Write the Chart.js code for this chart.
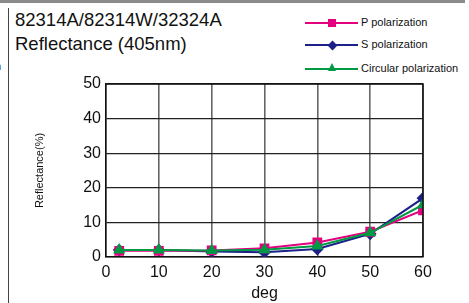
<!DOCTYPE html>
<html>
<head>
<meta charset="utf-8">
<script src="https://cdn.jsdelivr.net/npm/chart.js@4/dist/chart.umd.min.js"></script>
<style>
  html, body { margin: 0; padding: 0; background: #fff; }
  body { width: 469px; height: 303px; position: relative; overflow: hidden; font-family: "Liberation Sans", Arial, Helvetica, sans-serif; }
  #wrap { position: absolute; left: 0; top: 0; width: 469px; height: 303px; }
  .topRule { position: absolute; left: 0; top: 0; width: 465px; height: 3px; background: #8a8a8a; }
  .sideRule { position: absolute; left: 8px; top: 8px; width: 1px; height: 295px; background: #444; }
  .frag { position: absolute; left: -5px; top: 60px; font-size: 11px; color: #222; }
  .title { position: absolute; left: 15px; top: 8px; font-size: 18.5px; line-height: 23.5px; color: #111; }
  .leg { position: absolute; left: 305px; height: 12px; font-size: 11px; color: #111; }
  .leg .ln { position: absolute; left: 0; top: 5px; width: 53px; height: 2px; }
  .leg .mk { position: absolute; }
  .leg .tx { position: absolute; left: 56px; top: -1px; white-space: nowrap; }
</style>
</head>
<body>
<div class="topRule"></div>
<div class="sideRule"></div>
<div class="frag">n</div>
<div class="title">82314A/82314W/32324A<br>Reflectance (405nm)</div>

<div class="leg" style="top:17px">
  <div class="ln" style="background:#e4007f"></div>
  <div class="mk" style="left:23px;top:2px;width:8px;height:8px;background:#e4007f"></div>
  <div class="tx">P polarization</div>
</div>
<div class="leg" style="top:39px">
  <div class="ln" style="background:#1d2088"></div>
  <div class="mk" style="left:24px;top:2.5px;width:7px;height:7px;background:#1d2088;transform:rotate(45deg)"></div>
  <div class="tx">S polarization</div>
</div>
<div class="leg" style="top:63px">
  <div class="ln" style="background:#009944"></div>
  <div class="mk" style="left:22.5px;top:0px;width:0;height:0;border-left:4.5px solid transparent;border-right:4.5px solid transparent;border-bottom:8px solid #009944"></div>
  <div class="tx">Circular polarization</div>
</div>

<div id="wrap"><canvas id="c" width="469" height="303"></canvas></div>

<script>
// Reflectance at 405nm vs incidence angle
const angles = [2.5, 10, 20, 30, 40, 50, 60];
const pPol = [1.8, 1.8, 1.9, 2.5, 4.2, 7.3, 13.5];
const sPol = [2.0, 2.0, 1.6, 1.4, 2.3, 6.7, 17.0];
const circPol = [2.0, 2.0, 1.9, 2.1, 3.2, 7.0, 15.1];
const xTicks = [0, 10, 20, 30, 40, 50, 60];
const yTicks = [0, 10, 20, 30, 40, 50];

const toPts = (vals) => angles.map((a, i) => ({ x: a, y: vals[i] }));

const tickFont = { family: '"Liberation Sans", Arial, sans-serif', size: 16 };

new Chart(document.getElementById('c'), {
  type: 'line',
  data: {
    datasets: [
      {
        label: 'P polarization',
        data: toPts(pPol),
        borderColor: '#e4007f',
        backgroundColor: '#e4007f',
        pointStyle: 'rect',
        pointRadius: 5.5,
        borderWidth: 2,
        order: 1
      },
      {
        label: 'S polarization',
        data: toPts(sPol),
        borderColor: '#1d2088',
        backgroundColor: '#1d2088',
        pointStyle: 'rectRot',
        pointRadius: 5,
        borderWidth: 2,
        order: 2
      },
      {
        label: 'Circular polarization',
        data: toPts(circPol),
        borderColor: '#009944',
        backgroundColor: '#009944',
        pointStyle: 'triangle',
        pointRadius: 5,
        borderWidth: 2,
        order: 0
      }
    ]
  },
  options: {
    responsive: false,
    animation: false,
    layout: { padding: { left: 0, right: 46, top: 84, bottom: 0 } },
    plugins: { legend: { display: false }, tooltip: { enabled: false } },
    scales: {
      x: {
        type: 'linear',
        min: 0,
        max: 60,
        afterBuildTicks: (s) => { s.ticks = xTicks.map(v => ({ value: v })); },
        afterFit: (s) => { s.height = 46; },
        grid: { color: '#666', lineWidth: 1.6, drawTicks: false },
        border: { color: '#111', width: 1.5 },
        ticks: { color: '#111', font: tickFont, padding: 6, maxRotation: 0 },
        title: { display: true, text: 'deg', color: '#111', font: tickFont, padding: { top: 0, bottom: 0 } }
      },
      y: {
        min: 0,
        max: 50,
        afterBuildTicks: (s) => { s.ticks = yTicks.map(v => ({ value: v })); },
        afterFit: (s) => { s.width = 106; },
        grid: { color: '#222', lineWidth: 1.3, drawTicks: false },
        border: { color: '#111', width: 1.5 },
        ticks: { color: '#111', font: tickFont, padding: 5 },
        title: {
          display: true,
          text: 'Reflectance(%)',
          color: '#111',
          font: { family: '"Liberation Sans", Arial, sans-serif', size: 11 },
          padding: { top: 33, bottom: 0 }
        }
      }
    }
  },
  plugins: [{
    // close the plot box on top and right
    id: 'boxEdges',
    afterDraw(chart) {
      const { ctx, chartArea: a } = chart;
      ctx.save();
      ctx.strokeStyle = '#111';
      ctx.lineWidth = 1.5;
      ctx.beginPath();
      ctx.moveTo(a.left, a.top);
      ctx.lineTo(a.right, a.top);
      ctx.lineTo(a.right, a.bottom);
      ctx.stroke();
      ctx.restore();
    }
  }]
});
</script>
</body>
</html>
